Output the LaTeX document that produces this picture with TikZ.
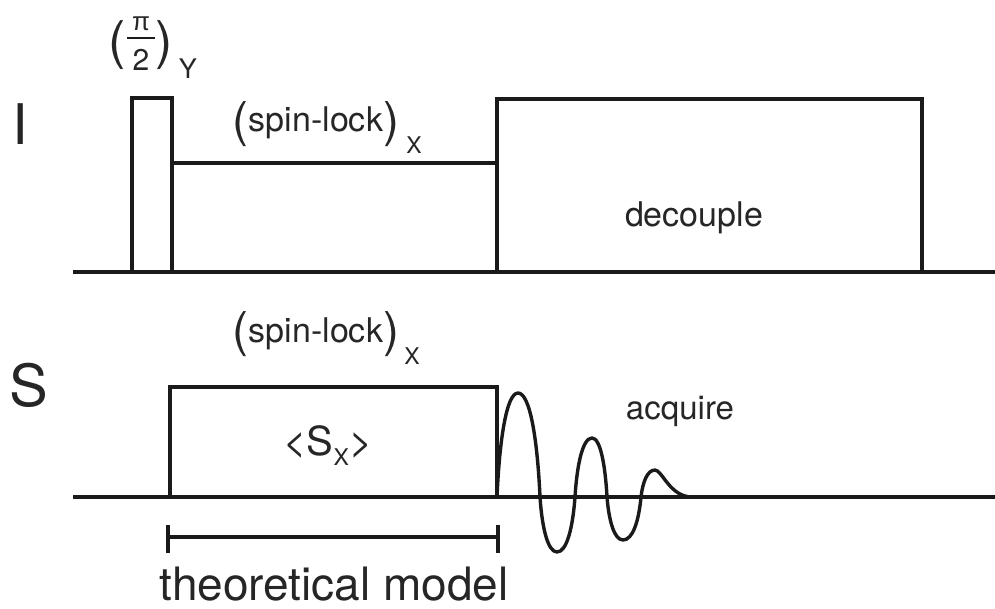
\documentclass[tikz,border=0pt]{standalone}
\usepackage{fontspec}
\setmainfont{TeX Gyre Heros}
\newfontfamily\pifont{Liberation Sans}
\definecolor{lncol}{HTML}{1A1A1A}
\definecolor{txtcol}{HTML}{262626}
\newcommand{\fsz}[1]{\fontsize{#1}{#1}\selectfont}
\begin{document}
\begin{tikzpicture}[x=1pt,y=-1pt,
  ln/.style={line width=3.4pt, draw=lncol, line join=miter},
  lbl/.style={inner sep=0pt, text=txtcol}]
\useasboundingbox (0,0) rectangle (995,609);
% ---- I channel ----
\coordinate (iL) at (73,272);
\coordinate (iR) at (995,272);
\coordinate (p1) at (132,272);
\coordinate (p2) at (172,98);
\coordinate (p3) at (172,272);
\coordinate (sl1a) at (172,163);
\coordinate (sl1b) at (497,163);
\coordinate (d1) at (497,272);
\coordinate (d2) at (922,99);
\coordinate (d3) at (922,272);
\draw[ln] (iL) -- (iR);
\draw[ln] (p1) |- (p2) -- (p3);
\draw[ln] (sl1a) -- (sl1b);
\draw[ln] (d1) |- (d2) -- (d3);
% ---- S channel ----
\coordinate (sL) at (73,497);
\coordinate (sR) at (995,497);
\coordinate (s1) at (170,497);
\coordinate (s2) at (497,387);
\coordinate (s3) at (497,497);
\draw[ln] (s1) |- (s2) -- (s3);
% FID
\draw[ln, line join=round]
  (s3) .. controls (499.5,439.8) and (506.5,393) .. (518,393)
       .. controls (530.1,393) and (537.4,439.8) .. (540,497)
       .. controls (542,527.3) and (547.7,552) .. (557,552)
       .. controls (566.9,552) and (572.8,527.3) .. (575,497)
       .. controls (577,464.5) and (582.7,438) .. (592,438)
       .. controls (600.3,438) and (605.2,464.5) .. (607,497)
       .. controls (608.9,520.7) and (614.2,540) .. (623,540)
       .. controls (632.9,540) and (638.8,520.7) .. (641,497)
       .. controls (642.7,482.2) and (647.3,470) .. (655,470)
       .. controls (662,470) and (670,497) .. (692,497);
\draw[ln] (sL) -- (sR);
% bracket
\coordinate (bL) at (168,537);
\coordinate (bR) at (498,537);
\draw[ln] (bL) -- (bR);
\draw[ln] ([yshift=-16pt]bL) -- ([yshift=12pt]bL);
\draw[ln] ([yshift=-16pt]bR) -- ([yshift=12pt]bR);
% ---- labels ----
\node[lbl, anchor=base] (labI) at (20,145) {\fsz{56}I};
\node[lbl, anchor=base] (labS) at (29,406) {\fsz{58}S};
% (pi/2)_Y
\node[lbl] (pl) at (117,45) {\fsz{52}(};
\node[lbl] (pinum) at (141,24) {\pifont\fsz{26}π};
\draw[ln, line width=2.6pt] (127,38) -- (155,38);
\node[lbl] (piden) at (141,60) {\fsz{30}2};
\node[lbl] (pr) at (164,45) {\fsz{52})};
\node[lbl, anchor=base] (piY) at (188,79) {\fsz{27}Y};
% spin-lock (I)
\node[lbl] (slL1) at (240,124) {\fsz{48}(};
\node[lbl, anchor=base] (slt1) at (316,132) {\fsz{34}spin-lock};
\node[lbl] (slR1) at (391,124) {\fsz{48})};
\node[lbl, anchor=base] (slX1) at (414,154) {\fsz{23}X};
% spin-lock (S)
\node[lbl] (slL2) at (240,334) {\fsz{48}(};
\node[lbl, anchor=base] (slt2) at (316,342) {\fsz{34}spin-lock};
\node[lbl] (slR2) at (391,334) {\fsz{48})};
\node[lbl, anchor=base] (slX2) at (412,364) {\fsz{23}X};
% others
\node[lbl, anchor=base] (dec) at (694,227) {\fsz{34}decouple};
\node[lbl, anchor=base] (acq) at (680,419) {\fsz{33}acquire};
\node[lbl, anchor=base] (sx) at (328,455) {\fsz{40}<S\raisebox{-10pt}{\fsz{23}X}>};
\node[lbl, anchor=base] (tm) at (334,600) {\fsz{46}theoretical model};
\end{tikzpicture}
\end{document}
